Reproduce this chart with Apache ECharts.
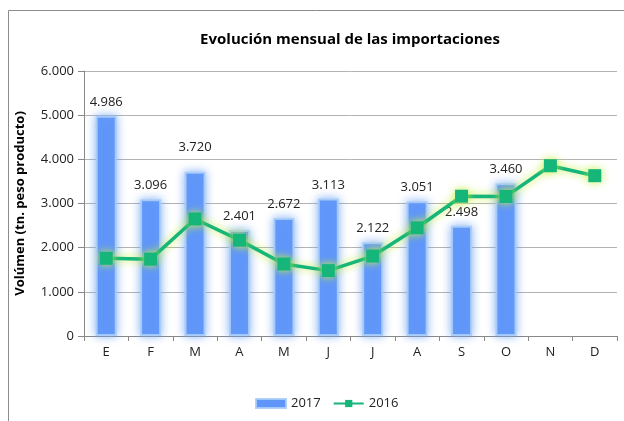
<!DOCTYPE html>
<html><head><meta charset="utf-8">
<script src="https://cdn.jsdelivr.net/npm/echarts@6/dist/echarts.min.js"></script>
<style>html,body{margin:0;padding:0;background:#fff}#c{width:624px;height:421px}</style>
</head><body><div id="c"></div>
<script>
const categories = ['E','F','M','A','M','J','J','A','S','O','N','D'];
const values2017 = [4986,3096,3720,2401,2672,3113,2122,3051,2498,3460,null,null];
const values2016 = [1760,1740,2650,2170,1630,1480,1810,2450,3165,3160,3855,3630];
const yTicks = [0,1000,2000,3000,4000,5000,6000];
const title = 'Evolución mensual de las importaciones';
const yName = 'Volúmen (tn. peso producto)';

const fmt = v => (v == null ? '' : String(Math.round(v)).replace(/\B(?=(\d{3})+(?!\d))/g, '.'));
const FONT = '"Open Sans", "Noto Sans", sans-serif';

const chart = echarts.init(document.getElementById('c'), null, {renderer:'canvas'});
chart.setOption({
  animation:false,
  textStyle:{fontFamily:FONT},
  title:{text:title,left:345,top:27,textAlign:'center',textStyle:{fontSize:15,fontWeight:'bold',color:'#000',fontFamily:FONT}},
  graphic:[{type:'rect',shape:{x:8.5,y:10.5,width:640,height:440},style:{fill:'none',stroke:'#8c8c8c',lineWidth:1},silent:true}],
  legend:{bottom:6,left:250,itemGap:12,itemWidth:30,itemHeight:9,textStyle:{fontSize:13,color:'#222',fontFamily:FONT},
    data:[{name:'2017',icon:'rect'},{name:'2016'}]},
  grid:{left:84,right:7,top:71,bottom:85},
  xAxis:{type:'category',data:categories,boundaryGap:true,
    axisLine:{lineStyle:{color:'#888'}},axisTick:{show:true,length:5,lineStyle:{color:'#888'}},
    axisLabel:{color:'#222',fontSize:13,margin:10}},
  yAxis:{type:'value',min:yTicks[0],max:yTicks[yTicks.length-1],interval:1000,
    name:yName,nameLocation:'middle',nameGap:57,nameRotate:90,
    nameTextStyle:{fontWeight:'bold',fontSize:13,color:'#000',fontFamily:FONT},
    axisLine:{show:true,lineStyle:{color:'#888'}},axisTick:{show:true,inside:false,length:6,lineStyle:{color:'#888'}},
    splitLine:{lineStyle:{color:'#b3b3b3'}},
    axisLabel:{color:'#222',fontSize:13,margin:10,formatter:v=>fmt(v)}},
  series:[
    {name:'2017',type:'bar',barWidth:21,
      data:values2017.map((v,i)=>i===2?{value:v,label:{distance:18}}:v),
      itemStyle:{color:'#6096f9',borderColor:'rgba(170,205,250,0.9)',borderWidth:2,shadowColor:'rgba(110,165,245,0.85)',shadowBlur:8},
      label:{show:true,position:'top',distance:7,fontSize:13,color:'#222',fontFamily:FONT,formatter:p=>fmt(p.value)}},
    {name:'2016',type:'line',data:values2016,symbol:'rect',symbolSize:13,
      lineStyle:{color:'#16b57a',width:3.5,shadowColor:'rgba(195,240,60,0.95)',shadowBlur:8},
      itemStyle:{color:'#16b57a',shadowColor:'rgba(195,240,60,0.95)',shadowBlur:8},
      z:3}
  ]
});
</script></body></html>
